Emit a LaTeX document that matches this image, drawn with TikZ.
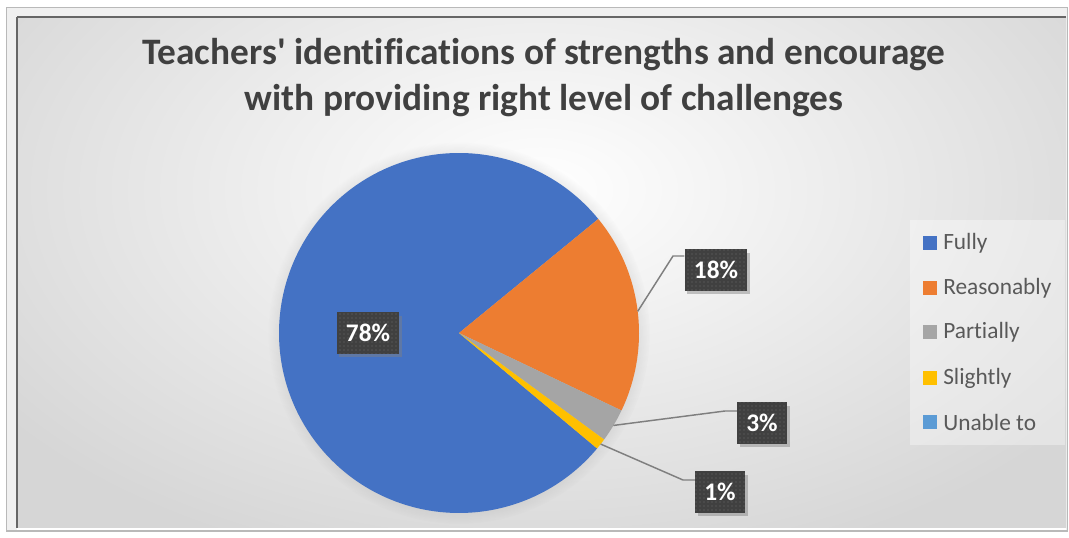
\documentclass[tikz,border=0pt]{standalone}
\usepackage{fontspec}
\setmainfont{Carlito}[Ligatures=NoCommon]
\usetikzlibrary{shadows, patterns}
\definecolor{fully}{HTML}{4472C4}
\definecolor{reasonably}{HTML}{ED7D31}
\definecolor{partially}{HTML}{A5A5A5}
\definecolor{slightly}{HTML}{FFC000}
\definecolor{unable}{HTML}{5B9BD5}
\definecolor{titlegray}{HTML}{404040}
\definecolor{keygray}{HTML}{595959}
\definecolor{boxgray}{HTML}{404040}
\definecolor{leadgray}{HTML}{7F7F7F}

\begin{document}
\begin{tikzpicture}[x=0.75pt, y=-0.75pt,
    pct/.style={fill=boxgray, text=white, inner xsep=7pt, minimum height=31pt,
        font=\fontsize{19}{20}\selectfont\bfseries,
        postaction={pattern=dots, pattern color=gray!70!boxgray},
        drop shadow={opacity=0.45, shadow xshift=2pt, shadow yshift=-2.5pt}},
    key/.style={fill=#1, minimum size=10.5pt, inner sep=0pt},
    keytext/.style={right, inner sep=0pt, text=keygray, font=\fontsize{17.5}{18}\selectfont},
    leader/.style={draw=leadgray, line width=1.1pt}]
    \useasboundingbox (0,0) rectangle (1069,538);
    % frame and chart area
    \fill[white] (0,0) rectangle (1069,538);
    \draw[gray!55, fill=gray!12, line width=1pt] (6.5,7.5) rectangle (1067.5,531);
    \begin{scope}
        \clip (17,18) rectangle (1066,527);
        \shade[inner color=white, outer color=gray!32] (-120,-200) rectangle (1200,580);
        \path[circular glow={fill=gray, opacity=0.3, shadow scale=1.06}] (459,333) circle (135pt);
    \end{scope}
    \draw[gray!80!black, line width=1.5pt] (17,17.5) -- (1066,17.5);
    \draw[gray!80!black, line width=1.5pt] (16.5,17) -- (16.5,528);
    \draw[white, line width=1.5pt] (17,529) -- (1066,529);

    % title
    \node[text=titlegray, align=center, font=\fontsize{28}{34.5}\selectfont\bfseries]
        (title) at (544,78) {Teachers\textquotesingle{} identifications of strengths and encourage\\
        with providing right level of challenges};

    % pie
    \coordinate (c) at (459,333);
    \fill[fully]      (c) -- ++(39.3:135pt) arc[start angle=39.3, end angle=320.1, radius=135pt] -- cycle;
    \fill[reasonably] (c) -- ++(-25.5:135pt) arc[start angle=-25.5, end angle=39.3, radius=135pt] -- cycle;
    \fill[partially]  (c) -- ++(-36.3:135pt) arc[start angle=-36.3, end angle=-25.5, radius=135pt] -- cycle;
    \fill[slightly]   (c) -- ++(-39.9:135pt) arc[start angle=-39.9, end angle=-36.3, radius=135pt] -- cycle;

    \coordinate (p18) at ([shift={(6.9:135pt)}]c);
    \coordinate (p3)  at ([shift={(-30.9:135pt)}]c);
    \coordinate (p1)  at ([shift={(-38.1:135pt)}]c);
    \coordinate (e18) at (673,256);
    \coordinate (e3)  at (725,411);
    \coordinate (e1)  at (683,480);

    % data labels
    \node[pct] (l78) at (368,333) {78\%};
    \node[pct] (l18) at (716,270) {18\%};
    \node[pct] (l3)  at (762,423) {3\%};
    \node[pct] (l1)  at (720,492) {1\%};

    \draw[leader] (p18) -- (e18) -- (e18 -| l18.west);
    \draw[leader] (p3)  -- (e3)  -- (e3 -| l3.west);
    \draw[leader] (p1)  -- (e1)  -- (e1 -| l1.west);

    % legend
    \fill[white, opacity=0.35] (910,220) rectangle (1065,445);
    \node[key=fully]      (kfully)      at (930,243) {};
    \node[key=reasonably] (kreasonably) at (930,288) {};
    \node[key=partially]  (kpartially)  at (930,332) {};
    \node[key=slightly]   (kslightly)   at (930,378) {};
    \node[key=unable]     (kunable)     at (930,422) {};
    \node[keytext] (tfully)      at (943,243) {Fully};
    \node[keytext] (treasonably) at (943,288) {Reasonably};
    \node[keytext] (tpartially)  at (943,332) {Partially};
    \node[keytext] (tslightly)   at (943,378) {Slightly};
    \node[keytext] (tunable)     at (943,422) {Unable to};
\end{tikzpicture}
\end{document}
